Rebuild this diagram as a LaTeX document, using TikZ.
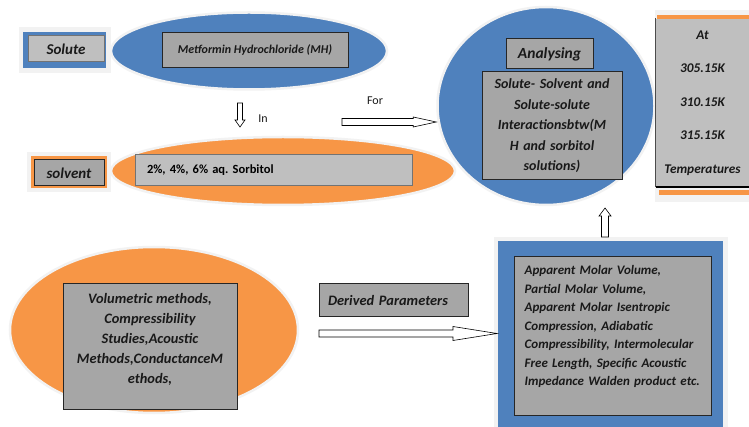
\documentclass[tikz,border=0pt]{standalone}
\usepackage{fontspec}
\setmainfont{Carlito}
\usetikzlibrary{shapes.geometric,calc,positioning}

\definecolor{mblue}{HTML}{4F81BD}
\definecolor{morange}{HTML}{F79646}
\definecolor{gdark}{HTML}{A6A6A6}
\definecolor{glight}{HTML}{BFBFBF}
\definecolor{gframe}{HTML}{F2F2F2}

\newcommand{\bisize}[2]{\bfseries\itshape\fontsize{#1}{#2}\selectfont}

\tikzset{
  bubble/.style={ellipse, draw=gframe, line width=2.5pt, inner sep=0pt},
  greybox/.style={rectangle, draw=black!85, line width=1pt, fill=gdark, inner sep=2pt},
  lightbox/.style={greybox, fill=glight, draw=black!55},
  bi/.style={font=\bisize{12}{14.5}, text=black!90},
  plain/.style={font=\fontsize{12}{14}\selectfont, text=black!90},
  fatarrow/.style n args={3}{draw, fill=white, line width=0.6pt,
    to path={let \p1=($(\tikztotarget)!#3!(\tikztostart)$) in
      ($(\tikztostart)!#1!90:(\tikztotarget)$) -- ($(\p1)!#1!90:(\tikztotarget)$)
      -- ($(\p1)!#2!90:(\tikztotarget)$) -- (\tikztotarget)
      -- ($(\p1)!#2!-90:(\tikztotarget)$) -- ($(\p1)!#1!-90:(\tikztotarget)$)
      -- ($(\tikztostart)!#1!-90:(\tikztotarget)$) -- cycle}}
}

\begin{document}
\begin{tikzpicture}[x=1pt,y=-1pt]
  \useasboundingbox (0,0) rectangle (749,427);
  \fill[white] (0,0) rectangle (749,427);

  % solute / solvent labels
  \fill[gframe] (19,27) rectangle (111,73);
  \fill[mblue] (23,32) rectangle (106,68);
  \node[lightbox, bi, font=\bisize{15}{17}, minimum width=76, minimum height=26] (solute) at (66,49) {Solute};
  \fill[gframe] (27,152) rectangle (111,192);
  \fill[morange] (31,156) rectangle (107,188);
  \node[greybox, bi, font=\bisize{15}{17}, minimum width=70, minimum height=26] (solvent) at (69,173) {solvent};

  % top ellipses
  \node[bubble, fill=mblue, minimum width=276, minimum height=77] (mhell) at (249,51) {};
  \node[greybox, bi, minimum width=186, minimum height=35] (mh) at (255,50.5) {Metformin Hydrochloride (MH)};
  \node[bubble, fill=morange, minimum width=344, minimum height=68] (sorbell) at (283,171) {};
  \node[lightbox, font=\bfseries\fontsize{12.5}{14}\selectfont, minimum width=277, minimum height=31,
        inner xsep=12pt, text width=253, align=left] (sorb) at (273.5,170.5) {2\%, 4\%, 6\% aq.\ Sorbitol};

  % analysing circle
  \node[bubble, fill=mblue, minimum width=217, minimum height=198] (anaell) at (546,106) {};
  \node[greybox, bi, font=\bisize{15.5}{18}, minimum width=87, minimum height=30] (ana) at (549.5,54) {Analysing};
  \node[greybox, bi, font=\bisize{14}{20.5}, minimum width=140, minimum height=108,
        text width=134, align=center] (inter) at (552,126)
        {Solute- Solvent and\\Solute-solute\\Interactionsbtw(M\\H and sorbitol\\solutions)};

  % temperatures
  \fill[gframe] (655,10) rectangle (749,202);
  \fill[morange] (657,15) rectangle (749,20);
  \node[lightbox, draw=none, bi, font=\bisize{13.3}{33.5}, minimum width=93, minimum height=168,
        text width=89, align=center] (temps) at (702.5,103) {At\\305.15K\\310.15K\\315.15K\\Temperatures};
  \draw[black!70, line width=1pt] (temps.north west) -- (temps.south west);
  \draw[black, line width=2pt] (temps.south west) -- (temps.south east);
  \fill[morange] (659,190) rectangle (749,195);

  % parameters
  \fill[gframe] (494,237) rectangle (728,427);
  \fill[mblue] (498,241) rectangle (723,427);
  \node[greybox, minimum width=197, minimum height=158] (par) at (612.5,336) {};
  \node[bi, font=\bisize{13}{18.5}, inner sep=0pt, text width=190, align=left,
        below right=9pt and 11pt of par.north west, anchor=north west] (partxt)
        {Apparent Molar Volume,\\Partial Molar Volume,\\Apparent Molar Isentropic\\Compression, Adiabatic\\Compressibility, Intermolecular\\Free Length, Specific Acoustic\\Impedance Walden product etc.};

  % methods
  \node[bubble, fill=morange, minimum width=288, minimum height=166] (methell) at (154,330) {};
  \node[greybox, minimum width=174, minimum height=125] (meth) at (150,346.5) {};
  \node[bi, font=\bisize{14.4}{20}, inner sep=0pt, align=center,
        below=10pt of meth.north, anchor=north] (methtxt)
        {Volumetric methods,\\Compressibility\\Studies,Acoustic\\Methods,ConductanceM\\ethods,};
  \node[greybox, bi, font=\bisize{14.4}{17}, minimum width=149, minimum height=33, inner xsep=9pt,
        text width=131, align=left] (der) at (393.5,300.5) {Derived Parameters};

  % arrows
  \coordinate (inS) at (240,103);
  \coordinate (inE) at (240,127);
  \coordinate (forS) at (342,122);
  \coordinate (forE) at (anaell.west |- forS);
  \coordinate (upS) at (605,237);
  \coordinate (upE) at (605,208);
  \coordinate (derS) at (319,333.5);
  \coordinate (derE) at (497,333.5);
  \draw[fatarrow={2.5pt}{5pt}{7pt}] (inS) to (inE);
  \draw[fatarrow={3.5pt}{5pt}{23pt}] (forS) to (forE);
  \draw[fatarrow={3.5pt}{6pt}{8pt}] (upS) to (upE);
  \draw[fatarrow={3.5pt}{7pt}{44pt}] (derS) to (derE);
  \node[plain] (intxt) at (263,119) {In};
  \node[plain] (fortxt) at (375,101) {For};
\end{tikzpicture}
\end{document}
